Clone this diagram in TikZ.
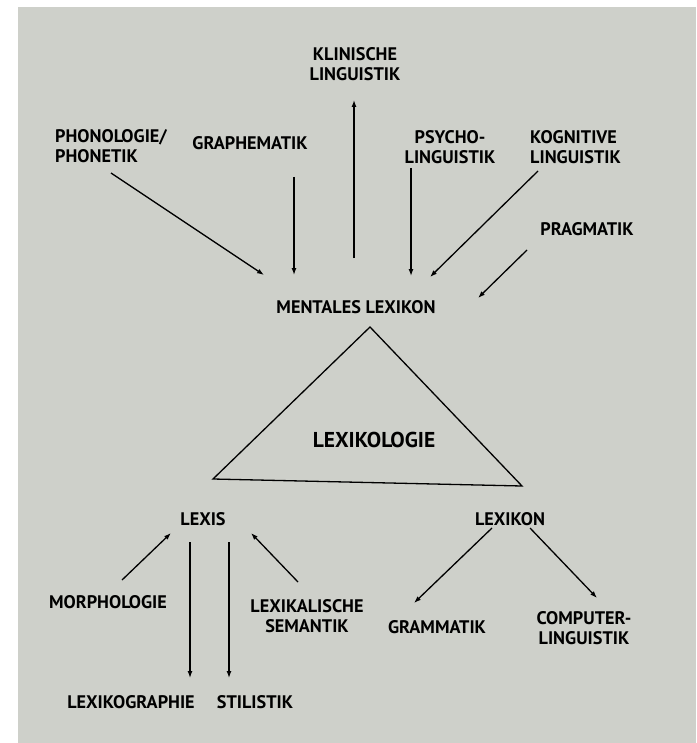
\documentclass[tikz,border=0pt]{standalone}
\usepackage{fontspec}
\setmainfont{PT Sans}
\usetikzlibrary{arrows.meta}
\definecolor{paper}{RGB}{206,208,202}
\tikzset{
  lbl/.style={font=\bfseries\fontsize{18.2}{20.5}\selectfont,align=center,inner sep=0pt},
  arr/.style={-{Latex[length=7pt,width=5pt]},line width=1.3pt},
}
\begin{document}
\begin{tikzpicture}[x=1pt,y=-1pt]
\useasboundingbox[fill=white] (0,0) rectangle (696,743);
\fill[paper] (18,7) rectangle (696,743);
\node[lbl] (klin) at (355,64) {KLINISCHE\\LINGUISTIK};
\node[lbl,align=left,anchor=west] (phon) at (55,146) {PHONOLOGIE/\\PHONETIK};
\node[lbl] (graph) at (250,143) {GRAPHEMATIK};
\node[lbl] (psych) at (450,147) {PSYCHO-\\LINGUISTIK};
\node[lbl,align=left,anchor=west] (kogn) at (530,147) {KOGNITIVE\\LINGUISTIK};
\node[lbl] (prag) at (587,229) {PRAGMATIK};
\node[lbl] (ment) at (356,307) {MENTALES LEXIKON};
\node[lbl,font=\bfseries\fontsize{21.5}{24}\selectfont] (lexkol) at (374,440) {LEXIKOLOGIE};
\node[lbl] (lexis) at (203,519) {LEXIS};
\node[lbl] (lexikon) at (510,519) {LEXIKON};
\node[lbl] (morph) at (108,602) {MORPHOLOGIE};
\node[lbl] (lexsem) at (307,616) {LEXIKALISCHE\\SEMANTIK};
\node[lbl] (gramm) at (437,627) {GRAMMATIK};
\node[lbl] (comp) at (584,628) {COMPUTER-\\LINGUISTIK};
\node[lbl] (lexgr) at (131,702) {LEXIKOGRAPHIE};
\node[lbl] (stil) at (255,702) {STILISTIK};
\draw[line width=1.3pt] (370,327) -- (213,479) -- (522,486) -- cycle;
\coordinate (phonA) at (111,173);
\coordinate (graphA) at (294,177);
\coordinate (psychA) at (411,168);
\coordinate (kognA) at (538,171);
\coordinate (pragA) at (527,250);
\coordinate (klinA) at (354,100);
\coordinate (mentA) at (264,275);
\coordinate (mentB) at (294,275);
\coordinate (mentC) at (354,258);
\coordinate (mentD) at (411,276);
\coordinate (mentE) at (430,277);
\coordinate (mentF) at (478,298);
\coordinate (lexisA) at (171,533);
\coordinate (lexisB) at (190,542);
\coordinate (lexisC) at (229,542);
\coordinate (lexisD) at (251,533);
\coordinate (morphA) at (122,580);
\coordinate (lexsemA) at (298,582);
\coordinate (lexgrA) at (190,678);
\coordinate (stilA) at (229,678);
\coordinate (lexikonA) at (492,528);
\coordinate (lexikonB) at (530,528);
\coordinate (grammA) at (414,603);
\coordinate (compA) at (597,598);
\draw[arr] (phonA) -- (mentA);
\draw[arr] (graphA) -- (mentB);
\draw[arr] (mentC) -- (klinA);
\draw[arr] (psychA) -- (mentD);
\draw[arr] (kognA) -- (mentE);
\draw[arr] (pragA) -- (mentF);
\draw[arr] (morphA) -- (lexisA);
\draw[arr] (lexisB) -- (lexgrA);
\draw[arr] (lexisC) -- (stilA);
\draw[arr] (lexsemA) -- (lexisD);
\draw[arr] (lexikonA) -- (grammA);
\draw[arr] (lexikonB) -- (compA);
\end{tikzpicture}
\end{document}
